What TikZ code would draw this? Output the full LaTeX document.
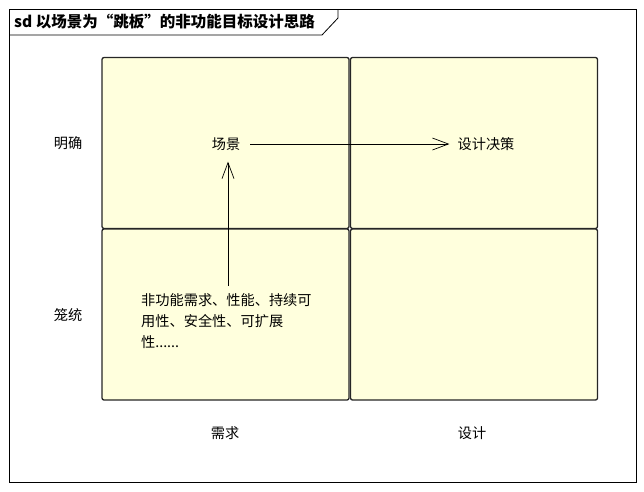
\documentclass[tikz,border=0pt]{standalone}
\usepackage{fontspec}
\setmainfont{Noto Sans CJK SC}
\usetikzlibrary{arrows.meta}
\definecolor{cellyellow}{RGB}{255,255,221}

\begin{document}
\begin{tikzpicture}[
        x=1pt,y=-1pt,
        cell/.style={draw=black!85,line width=1.3pt,fill=cellyellow,rounded corners=2pt,minimum width=247pt,minimum height=171pt,inner sep=0pt},
        txt/.style={font=\fontsize{14.2}{21}\selectfont,inner sep=0pt},
        flow/.style={-{Straight Barb[length=16pt,width=12pt]},line width=0.7pt}
    ]
        \useasboundingbox (0,0) rectangle (644,491);
        % Define the frame and its tab
        \draw[line width=0.8pt] (9,9) rectangle (636,482);
        \draw[line width=0.8pt] (9,35) -- (322,35) -- (338,18) -- (338,9);
        \node[anchor=west,inner sep=0pt,font=\fontsize{15.5}{18}\selectfont\bfseries] (title) at (14,22) {sd 以场景为“跳板”的非功能目标设计思路};

        % Define the four cells
        \node[cell] (nw) at (225.5,143) {};
        \node[cell] (ne) at (474,143) {};
        \node[cell] (sw) at (225.5,314.5) {};
        \node[cell] (se) at (474,314.5) {};

        % Axis labels
        \node[txt] (clear) at (68,143) {明确};
        \node[txt] (vague) at (68,315) {笼统};
        \node[txt] (need) at (225,433) {需求};
        \node[txt] (design) at (472,433) {设计};

        % Inner texts
        \node[txt] (scene) at (226,144) {场景};
        \node[txt] (decision) at (486,144) {设计决策};
        \node[txt,align=left,anchor=north west] (req) at (141,293) {非功能需求、性能、持续可\\用性、安全性、可扩展\\性......};

        % Draw the arrows
        \draw[flow] ([xshift=2pt,yshift=7pt]req.north -| scene) -- ([xshift=2pt,yshift=-11pt]scene.south);
        \draw[flow] ([xshift=10pt]scene.east) -- ([xshift=-8pt]decision.west);
    \end{tikzpicture}
\end{document}
